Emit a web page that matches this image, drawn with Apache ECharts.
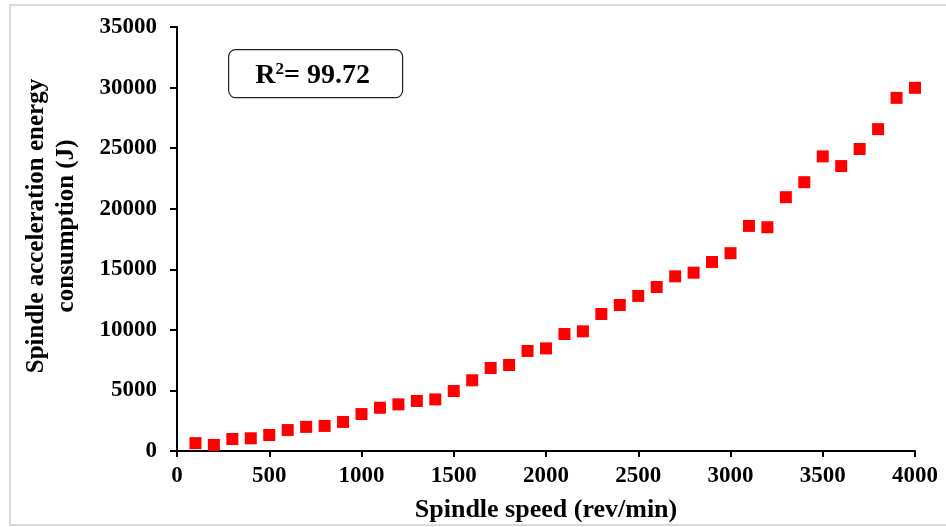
<!DOCTYPE html>
<html>
<head>
<meta charset="utf-8">
<script src="https://cdn.jsdelivr.net/npm/echarts@6/dist/echarts.min.js"></script>
<style>
  html, body { margin: 0; padding: 0; background: #fff; }
  #chart { width: 946px; height: 527px; }
  #frame { position: absolute; left: 9px; top: 4px; width: 945px; height: 522px; border: 2px solid #d9d9d9; box-sizing: border-box; pointer-events: none; }
</style>
</head>
<body>
<div id="chart"></div>
<div id="frame"></div>
<script>
// Spindle speed (rev/min) and measured acceleration energy (J)
const speeds = [100, 200, 300, 400, 500, 600, 700, 800, 900, 1000,
  1100, 1200, 1300, 1400, 1500, 1600, 1700, 1800, 1900, 2000,
  2100, 2200, 2300, 2400, 2500, 2600, 2700, 2800, 2900, 3000,
  3100, 3200, 3300, 3400, 3500, 3600, 3700, 3800, 3900, 4000];
const energy = [650, 500, 990, 1050, 1320, 1730, 1990, 2070, 2400, 3050,
  3570, 3850, 4130, 4260, 4950, 5840, 6850, 7100, 8260, 8470,
  9660, 9880, 11310, 12050, 12800, 13540, 14420, 14720, 15600, 16330,
  18580, 18470, 20950, 22190, 24320, 23520, 24930, 26570, 29150, 29980];
const xTicks = { min: 0, max: 4000, interval: 500 };
const yTicks = { min: 0, max: 35000, interval: 5000 };
const yTitle = 'Spindle acceleration energy\nconsumption (J)';
const r2Value = '99.72';

const points = speeds.map((s, i) => [s, energy[i]]);
const font = '"Liberation Serif", "Times New Roman", serif';
const plain = v => String(v);

const chart = echarts.init(document.getElementById('chart'), null, { renderer: 'canvas' });
chart.setOption({
  animation: false,
  backgroundColor: '#ffffff',
  grid: { left: 177, right: 31, top: 27, bottom: 76, containLabel: false, outerBoundsMode: 'none' },
  xAxis: {
    type: 'value',
    min: xTicks.min, max: xTicks.max, interval: xTicks.interval,
    name: 'Spindle speed (rev/min)',
    nameLocation: 'middle', nameGap: 46,
    nameTextStyle: { fontFamily: font, fontWeight: 'bold', fontSize: 26, color: '#000' },
    axisLine: { show: true, onZero: false, lineStyle: { color: '#000', width: 2 } },
    axisTick: { show: true, inside: false, length: 6, lineStyle: { color: '#000', width: 2 } },
    axisLabel: { fontFamily: font, fontWeight: 'bold', fontSize: 23, color: '#000', margin: 14, formatter: plain },
    splitLine: { show: false }
  },
  yAxis: {
    type: 'value',
    min: yTicks.min, max: yTicks.max, interval: yTicks.interval,
    axisLine: { show: true, lineStyle: { color: '#000', width: 2 } },
    axisTick: { show: true, inside: false, length: 7, lineStyle: { color: '#000', width: 2 } },
    axisLabel: { fontFamily: font, fontWeight: 'bold', fontSize: 23, color: '#000', margin: 20, formatter: plain },
    splitLine: { show: false }
  },
  series: [{
    type: 'scatter',
    data: points,
    symbol: 'rect',
    symbolSize: 12,
    itemStyle: { color: '#ff0000', opacity: 1 }
  }],
  graphic: [{
    // vertical axis title, two lines, rotated to read bottom-to-top
    type: 'text',
    x: 52, y: 226,
    rotation: Math.PI / 2,
    style: {
      text: yTitle,
      align: 'center', verticalAlign: 'middle',
      fontFamily: font, fontWeight: 'bold', fontSize: 25, lineHeight: 30, fill: '#000'
    }
  }, {
    type: 'group',
    left: 228, top: 49,
    children: [{
      type: 'rect',
      shape: { x: 0, y: 0, width: 174, height: 48, r: 7 },
      style: { fill: '#fff', stroke: '#222', lineWidth: 1.2 }
    }, {
      type: 'text',
      x: 84, y: 26,
      style: {
        text: '{a|R}{s|2}{a|= ' + r2Value + '}',
        align: 'center', verticalAlign: 'middle',
        rich: {
          a: { fontFamily: font, fontWeight: 'bold', fontSize: 28, fill: '#000' },
          s: { fontFamily: font, fontWeight: 'bold', fontSize: 17, fill: '#000', verticalAlign: 'top', padding: [0, 0, 6, 0] }
        }
      }
    }]
  }]
});
</script>
</body>
</html>
